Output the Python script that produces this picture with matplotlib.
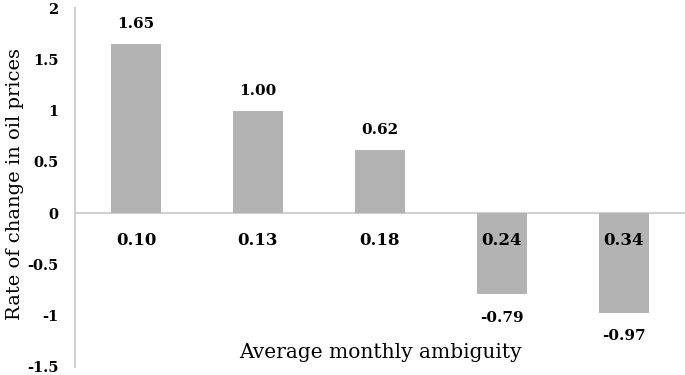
import matplotlib.pyplot as plt

# ambiguity level (category label) and oil price change for each bin
ambiguity = ["0.10", "0.13", "0.18", "0.24", "0.34"]
price_change = [1.65, 1.00, 0.62, -0.79, -0.97]
value_labels = ["1.65", "1.00", "0.62", "-0.79", "-0.97"]
y_ticks = [-1.5, -1, -0.5, 0, 0.5, 1, 1.5, 2]
y_tick_labels = ["-1.5", "-1", "-0.5", "0", "0.5", "1", "1.5", "2"]

plt.rcParams['font.family'] = ['DejaVu Serif']

fig = plt.figure(figsize=(6.85, 3.75), dpi=100)
ax = fig.add_axes([75 / 685, 8 / 375, 610 / 685, 359 / 375])

x = list(range(len(ambiguity)))
ax.bar(x, price_change, width=0.41, color='#b3b3b3', zorder=2)

ax.set_xlim(-0.5, len(ambiguity) - 0.5)
ax.set_ylim(-1.5, 2)
ax.set_yticks(y_ticks)
ax.set_yticklabels(y_tick_labels, fontsize=10.5, fontweight='bold')
ax.tick_params(axis='y', length=0, pad=12)
ax.set_xticks([])

for s in ['top', 'right', 'bottom']:
    ax.spines[s].set_visible(False)
ax.spines['left'].set_color('#d0d0d0')
ax.spines['left'].set_linewidth(1.5)
ax.axhline(0, color='#d0d0d0', lw=1.5, zorder=1)

# value labels above / below each bar
for xi, v, lab in zip(x, price_change, value_labels):
    off = 14 if v >= 0 else -17
    ax.annotate(lab, (xi, v), xytext=(0, off), textcoords='offset points',
                ha='center', va='center', fontsize=11, fontweight='bold')

# category labels sit just under the zero line
for xi, lab in zip(x, ambiguity):
    ax.annotate(lab, (xi, 0), xytext=(0, -20), textcoords='offset points',
                ha='center', va='center', fontsize=12, fontweight='bold', zorder=3)

fig.text(15 / 685, 1 - 184 / 375, "Rate of change in oil prices", rotation=90,
         ha='center', va='center', fontsize=14)
fig.text(380 / 685, 1 - 352 / 375, "Average monthly ambiguity", ha='center',
         va='center', fontsize=14.5)

fig.savefig("out.png", dpi=100)
